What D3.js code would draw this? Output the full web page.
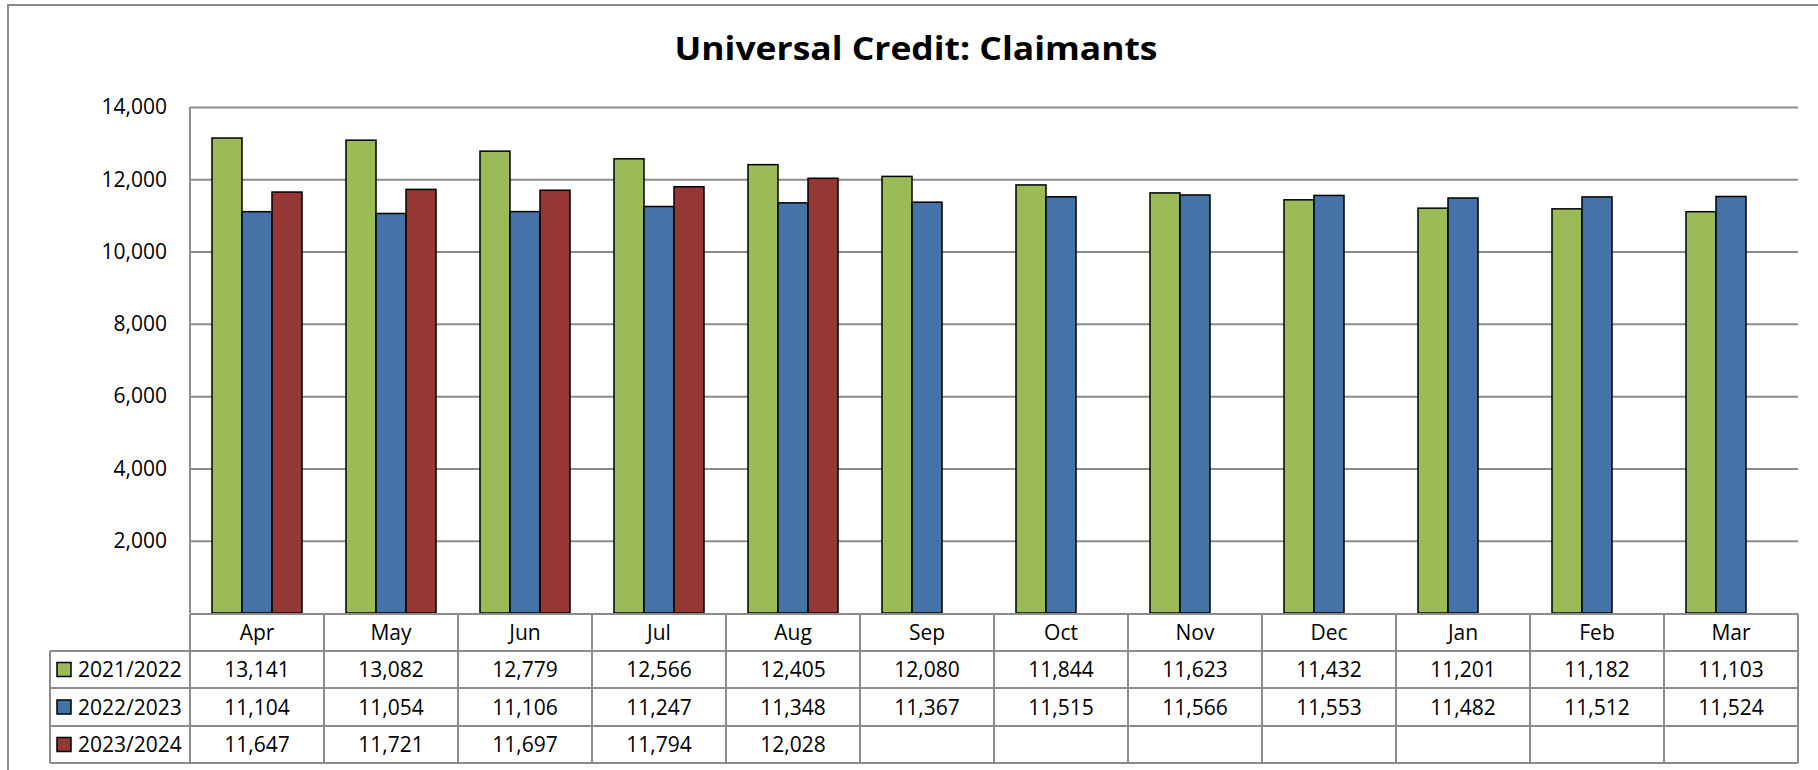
<!DOCTYPE html>
<html><head><meta charset="utf-8">
<script src="https://cdn.jsdelivr.net/npm/d3@7"></script>
<style>body{margin:0;background:#fff;}svg{display:block;}text{font-family:"Open Sans",Lato,sans-serif;fill:#000;}</style>
</head><body><svg id="c" width="1818" height="770"></svg>
<script>
const months = ["Apr","May","Jun","Jul","Aug","Sep","Oct","Nov","Dec","Jan","Feb","Mar"];
const seriesNames = ["2021/2022","2022/2023","2023/2024"];
const s2021 = [13141,13082,12779,12566,12405,12080,11844,11623,11432,11201,11182,11103];
const s2022 = [11104,11054,11106,11247,11348,11367,11515,11566,11553,11482,11512,11524];
const s2023 = [11647,11721,11697,11794,12028,null,null,null,null,null,null,null];
const yTicks = [2000,4000,6000,8000,10000,12000,14000];
const colors = ["#9BBB59","#4572A7","#953735"];
const title = "Universal Credit: Claimants";

const allSeries = [s2021,s2022,s2023];
const svg = d3.select("#c");
const L=190,R=1798,T=107,B=613;
const grid="#8c8c8c";
const fmt=d3.format(",");
const FS=21;

// outer frame
svg.append("path").attr("d","M8,770V5H1818").attr("fill","none").attr("stroke",grid).attr("stroke-width",2);

svg.append("text").attr("x",916).attr("y",60).attr("text-anchor","middle")
  .attr("font-size",33).attr("font-weight","bold")
  .attr("textLength",483).attr("lengthAdjust","spacingAndGlyphs").text(title);

const y=d3.scaleLinear().domain([0,14000]).range([B,T]);
const x=d3.scaleBand().domain(months).range([L,R]).paddingInner(0).paddingOuter(0);
const x1=d3.scaleBand().domain(seriesNames).range([0,x.bandwidth()]).paddingInner(0).paddingOuter(0.733);

// gridlines
const yAxis=d3.axisLeft(y).tickValues(yTicks).tickFormat(fmt).tickSize(-(R-L)).tickPadding(23);
const ga=svg.append("g").attr("transform",`translate(${L},0)`).call(yAxis);
ga.select(".domain").remove();
ga.selectAll(".tick line").attr("stroke",grid).attr("stroke-width",2);
ga.selectAll(".tick text").attr("font-size",FS).attr("font-family","'Open Sans',sans-serif").attr("fill","#000");
svg.append("line").attr("x1",L).attr("x2",L).attr("y1",T).attr("y2",B).attr("stroke",grid).attr("stroke-width",2);

// bars
allSeries.forEach((arr,si)=>{
  svg.append("g").selectAll("rect").data(months.map((m,i)=>({m,v:arr[i]})).filter(d=>d.v!=null))
    .join("rect")
    .attr("x",d=>x(d.m)+x1(seriesNames[si]))
    .attr("width",x1.bandwidth())
    .attr("y",d=>y(d.v))
    .attr("height",d=>y(0)-y(d.v))
    .attr("fill",colors[si]).attr("stroke","#000").attr("stroke-width",1.5);
});

// data table
const rowY=[614,651,688,726,763];
const tL=50;
const tg=svg.append("g");
const ln=(x1_,y1_,x2_,y2_)=>tg.append("line").attr("x1",x1_).attr("y1",y1_).attr("x2",x2_).attr("y2",y2_).attr("stroke",grid).attr("stroke-width",2);
ln(L,rowY[0],R,rowY[0]);
for(let r=1;r<rowY.length;r++) ln(tL,rowY[r],R,rowY[r]);
ln(tL,rowY[1],tL,rowY[4]);
months.forEach(m=>ln(x(m),rowY[0],x(m),rowY[4]));
ln(R,rowY[0],R,rowY[4]);

months.forEach(m=>{
  tg.append("text").attr("x",x(m)+x.bandwidth()/2).attr("y",(rowY[0]+rowY[1])/2+7.5)
    .attr("text-anchor","middle").attr("font-size",FS).text(m);
});
allSeries.forEach((arr,si)=>{
  const yc=(rowY[si+1]+rowY[si+2])/2;
  tg.append("rect").attr("x",57).attr("y",yc-7).attr("width",14).attr("height",14)
    .attr("fill",colors[si]).attr("stroke","#000").attr("stroke-width",1.5);
  tg.append("text").attr("x",78).attr("y",yc+7.5).attr("font-size",FS).text(seriesNames[si]);
  arr.forEach((v,i)=>{
    if(v==null) return;
    tg.append("text").attr("x",x(months[i])+x.bandwidth()/2).attr("y",yc+7.5)
      .attr("text-anchor","middle").attr("font-size",FS).text(fmt(v));
  });
});
</script></body></html>
